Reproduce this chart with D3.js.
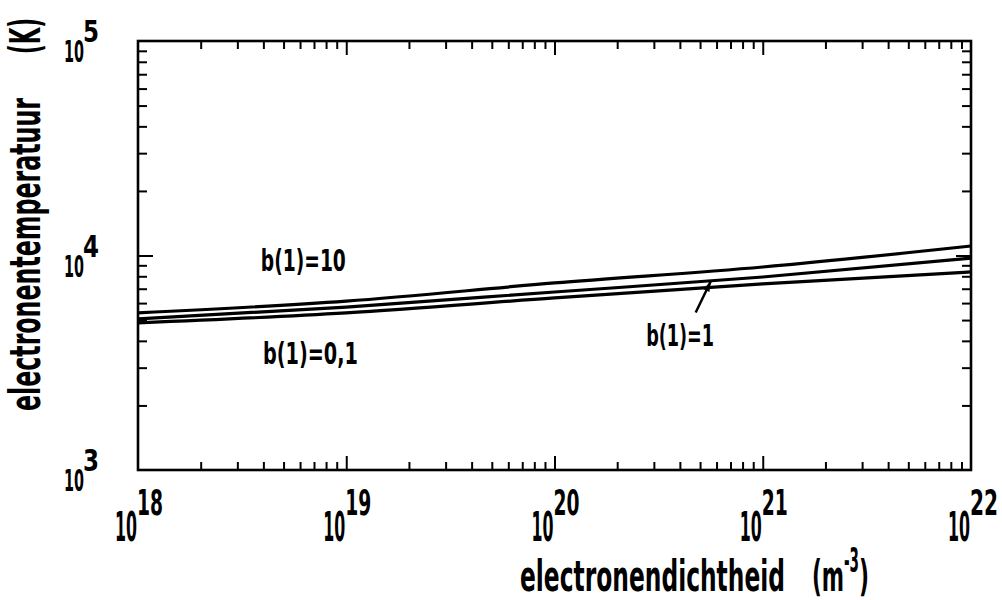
<!DOCTYPE html>
<meta charset="utf-8">
<style>
html, body { margin: 0; background: white; }
svg { display: block; }
text { font-family: "DejaVu Sans Condensed", "Liberation Sans Narrow", sans-serif; font-weight: bold; fill: #000; }
.curve { fill: none; stroke: #000; stroke-width: 3.2px; stroke-linejoin: round; }
.frame { fill: none; stroke: #000; stroke-width: 2.6px; }
.tick line { stroke: #000; stroke-width: 2px; }
</style>
<body>
<script src="https://cdn.jsdelivr.net/npm/d3@7"></script>
<script>

// electron density (m^-3) and temperature (K)
var density = [1e18, 1e19, 1e20, 1e21, 1e22];
var tempB10 = [5400, 6130, 7450, 8840, 11070];
var tempB1 = [5060, 5750, 6760, 7940, 9730];
var tempB01 = [4850, 5400, 6340, 7370, 8380];

var xDecades = [18, 19, 20, 21, 22];
var yDecades = [3, 4, 5];

var width = 1002,
    height = 600;
var margin = {top: 41, right: 31, bottom: 130, left: 138};
var w = width - margin.left - margin.right,
    h = height - margin.top - margin.bottom;

var svg = d3.select("body").append("svg")
    .attr("width", width)
    .attr("height", height);

var x = d3.scaleLog().domain([1e18, 1e22]).range([0, w]);
var y = d3.scaleLog().domain([1e3, 1e5]).range([h, 0]);

var g = svg.append("g")
    .attr("transform", "translate(" + margin.left + "," + margin.top + ")");

// minor tick positions 2..9 in each decade
function minors(lo, hi) {
    var out = [];
    for (var e = lo; e < hi; e++) {
        for (var k = 2; k <= 9; k++) out.push(k * Math.pow(10, e));
    }
    return out;
}
var xMajor = xDecades.slice(1, -1).map(function(e) { return Math.pow(10, e); });
var yMajor = yDecades.slice(1, -1).map(function(e) { return Math.pow(10, e); });
var xMinor = minors(18, 22);
var yMinor = minors(3, 5);

function addAxis(axisFn, scale, values, size, transform) {
    var a = g.append("g")
        .attr("transform", transform)
        .call(axisFn(scale).tickValues(values).tickSize(-size).tickFormat(""));
    a.select(".domain").remove();
}
addAxis(d3.axisBottom, x, xMinor, 8, "translate(0," + h + ")");
addAxis(d3.axisBottom, x, xMajor, 14, "translate(0," + h + ")");
addAxis(d3.axisTop, x, xMinor, 8, "translate(0,0)");
addAxis(d3.axisTop, x, xMajor, 14, "translate(0,0)");
addAxis(d3.axisLeft, y, yMinor, 9, "translate(0,0)");
addAxis(d3.axisLeft, y, yMajor, 15, "translate(0,0)");
addAxis(d3.axisRight, y, yMinor, 9, "translate(" + w + ",0)");
addAxis(d3.axisRight, y, yMajor, 15, "translate(" + w + ",0)");

g.append("rect")
    .attr("class", "frame")
    .attr("width", w)
    .attr("height", h);

// curves
var line = d3.line()
    .x(function(d) { return x(d[0]); })
    .y(function(d) { return y(d[1]); })
    .curve(d3.curveMonotoneX);

[tempB10, tempB1, tempB01].forEach(function(series) {
    g.append("path")
        .attr("class", "curve")
        .attr("d", line(density.map(function(d, i) { return [d, series[i]]; })));
});

// text made of squeezed pieces: [x, y, size, length, string]
function label(parent, pieces, transform) {
    var t = parent.append("text");
    pieces.forEach(function(p) {
        t.append("tspan")
            .attr("x", p[0])
            .attr("y", p[1])
            .attr("font-size", p[2])
            .attr("textLength", p[3])
            .attr("lengthAdjust", "spacingAndGlyphs")
            .text(p[4]);
    });
    if (transform) t.attr("transform", transform);
    return t;
}

// tick labels: "10" with exponent
xDecades.forEach(function(e) {
    var px = x(Math.pow(10, e));
    label(g, [[px - 23, h + 71, 40, 22, "10"],
              [px - 1, h + 45, 36, e === 22 ? 28 : 26, e]]);
});

yDecades.forEach(function(e) {
    var py = y(Math.pow(10, e));
    label(g, [[-74, py + 21, 30, 20, "10"],
              [-55, py + 1, 30, 16, e]]);
});

// axis titles
label(svg, [[0, 0, 42, 313, "electronentemperatuur"]], "translate(40,411) rotate(-90)");
label(svg, [[0, 0, 42, 36, "(K)"]], "translate(40,54) rotate(-90)");

label(svg, [[520, 591, 42, 265, "electronendichtheid"]]);
label(svg, [[812, 591, 42, 32, "(m"], [844, 572, 34, 15, "-3"], [859, 591, 42, 10, ")"]]);

// curve annotations
label(g, [[x(Math.pow(10, 18.59)), y(Math.pow(10, 3.93)), 30, 85, "b(1)=10"]]);
label(g, [[x(Math.pow(10, 18.6)), y(Math.pow(10, 3.495)), 30, 95, "b(1)=0,1"]]);
label(g, [[x(Math.pow(10, 20.44)), y(Math.pow(10, 3.578)), 30, 68, "b(1)=1"]]);

// arrow pointing at the b(1)=1 curve
var tip = [x(Math.pow(10, 20.75)), y(7560)];
var tail = [tip[0] - 15, tip[1] + 31];
g.append("line")
    .attr("x1", tail[0]).attr("y1", tail[1])
    .attr("x2", tip[0]).attr("y2", tip[1])
    .attr("stroke", "#000")
    .attr("stroke-width", 2.5);
var ang = Math.atan2(tip[1] - tail[1], tip[0] - tail[0]);
var hl = 10, hw = 3.5;
var bx = tip[0] - hl * Math.cos(ang), by = tip[1] - hl * Math.sin(ang);
g.append("path")
    .attr("d", "M" + tip[0] + "," + tip[1] +
        "L" + (bx + hw * Math.sin(ang)) + "," + (by - hw * Math.cos(ang)) +
        "L" + (bx - hw * Math.sin(ang)) + "," + (by + hw * Math.cos(ang)) + "Z")
    .attr("fill", "#000");

</script>
